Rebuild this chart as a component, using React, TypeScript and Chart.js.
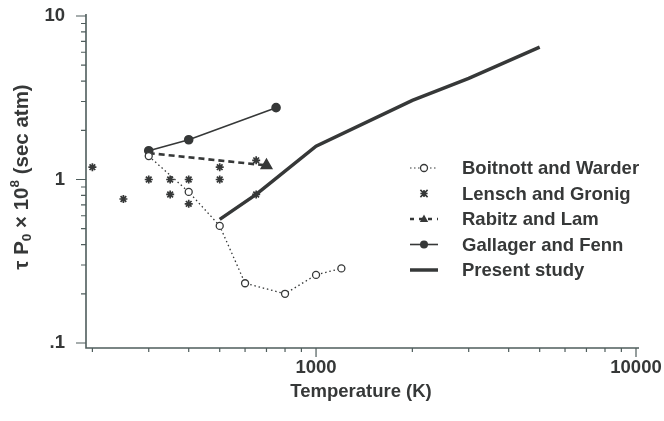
import React, { useEffect, useRef } from 'react';
import { Chart, registerables } from 'chart.js';

Chart.register(...registerables);

// ---- data ----
const boitnottT = [300, 400, 500, 600, 800, 1000, 1200];
const boitnottTau = [1.39, 0.84, 0.52, 0.232, 0.2, 0.261, 0.286];

const lenschT = [200, 250, 300, 350, 350, 400, 400, 500, 500, 650, 650];
const lenschTau = [1.19, 0.76, 1.0, 1.0, 0.81, 1.0, 0.71, 1.19, 1.0, 1.31, 0.81];

const rabitzT = [300, 700];
const rabitzTau = [1.45, 1.22];

const gallagerT = [300, 400, 750];
const gallagerTau = [1.5, 1.75, 2.75];

const presentT = [500, 650, 1000, 2000, 3000, 5000];
const presentTau = [0.57, 0.81, 1.6, 3.05, 4.15, 6.45];

const seriesNames = [
  'Boitnott and Warder',
  'Lensch and Gronig',
  'Rabitz and Lam',
  'Gallager and Fenn',
  'Present study',
];

const xTickValues = [1000, 10000];
const xTickTexts = ['1000', '10000'];
const yTickValues = [0.1, 1, 10];
const yTickTexts = ['.1', '1', '10'];

const xMinorValues = [200, 300, 400, 500, 600, 700, 800, 900, 2000, 3000, 4000, 5000, 6000, 7000, 8000, 9000];
const yMinorValues = [0.2, 0.3, 0.4, 0.5, 0.6, 0.7, 0.8, 0.9, 2, 3, 4, 5, 6, 7, 8, 9];

const INK = '#363838';
const AXIS = '#4f5d5c';
const FONT = '"Liberation Sans", Arial, Helvetica, sans-serif';
const FS = 18.5;

const toPts = (xs: number[], ys: number[]) => xs.map((x, i) => ({ x, y: ys[i] }));

const near = (a: number, b: number) => Math.abs(a - b) <= Math.abs(b) * 1e-6;

function labelFor(values: number[], texts: string[]) {
  return (v: any) => {
    const n = Number(v);
    for (let i = 0; i < values.length; i++) if (near(n, values[i])) return texts[i];
    return '';
  };
}

function drawPoint(ctx: CanvasRenderingContext2D, kind: string, x: number, y: number) {
  ctx.save();
  ctx.strokeStyle = INK;
  ctx.fillStyle = INK;
  ctx.setLineDash([]);
  if (kind === 'openCircle') {
    ctx.lineWidth = 1.3;
    ctx.fillStyle = '#fff';
    ctx.beginPath();
    ctx.arc(x, y, 3.5, 0, Math.PI * 2);
    ctx.fill();
    ctx.stroke();
  } else if (kind === 'circle') {
    ctx.beginPath();
    ctx.arc(x, y, 4, 0, Math.PI * 2);
    ctx.fill();
  } else if (kind === 'triangle') {
    ctx.beginPath();
    ctx.moveTo(x, y - 4.5);
    ctx.lineTo(x + 4.2, y + 3);
    ctx.lineTo(x - 4.2, y + 3);
    ctx.closePath();
    ctx.fill();
  } else if (kind === 'star') {
    ctx.lineWidth = 1.6;
    const r = 3.6;
    ctx.beginPath();
    ctx.moveTo(x - r, y - r); ctx.lineTo(x + r, y + r);
    ctx.moveTo(x + r, y - r); ctx.lineTo(x - r, y + r);
    ctx.moveTo(x - r, y); ctx.lineTo(x + r, y);
    ctx.moveTo(x, y - r); ctx.lineTo(x, y + r);
    ctx.stroke();
  }
  ctx.restore();
}

const decorPlugin = {
  id: 'decor',
  afterDraw(chart: any) {
    const ctx: CanvasRenderingContext2D = chart.ctx;
    const xs = chart.scales.x;
    const ys = chart.scales.y;
    const area = chart.chartArea;

    // axes lines
    ctx.save();
    ctx.strokeStyle = AXIS;
    ctx.lineWidth = 1.6;
    ctx.beginPath();
    ctx.moveTo(area.left, area.top - 2);
    ctx.lineTo(area.left, area.bottom);
    ctx.lineTo(area.right + 3, area.bottom);
    ctx.stroke();

    // y ticks (outward, to the left)
    ctx.lineWidth = 1.2;
    ctx.beginPath();
    yTickValues.forEach((v) => {
      const p = ys.getPixelForValue(v);
      ctx.moveTo(area.left - 10, p);
      ctx.lineTo(area.left, p);
    });
    yMinorValues.forEach((v) => {
      const p = ys.getPixelForValue(v);
      ctx.moveTo(area.left - 5, p);
      ctx.lineTo(area.left, p);
    });
    // x ticks (outward, downward)
    xTickValues.forEach((v) => {
      const p = xs.getPixelForValue(v);
      ctx.moveTo(p, area.bottom);
      ctx.lineTo(p, area.bottom + 9);
    });
    xMinorValues.forEach((v) => {
      const p = xs.getPixelForValue(v);
      ctx.moveTo(p, area.bottom);
      ctx.lineTo(p, area.bottom + 4);
    });
    ctx.stroke();
    ctx.restore();

    // y axis title with subscript / superscript
    ctx.save();
    ctx.translate(22, 177);
    ctx.rotate(-Math.PI / 2);
    ctx.fillStyle = INK;
    ctx.textBaseline = 'middle';
    const big = `bold 20.5px ${FONT}`;
    const small = `bold 13.5px ${FONT}`;
    const parts: [string, string, number][] = [
      ['\u03C4 P', big, 0],
      ['0', small, 5],
      [' \u00D7 10', big, 0],
      ['8', small, -7],
      [' (sec atm)', big, 0],
    ];
    let total = 0;
    parts.forEach(([t, f]) => { ctx.font = f; total += ctx.measureText(t).width; });
    let cx = -total / 2;
    parts.forEach(([t, f, dy]) => {
      ctx.font = f;
      ctx.fillText(t, cx, dy);
      cx += ctx.measureText(t).width;
    });
    ctx.restore();

    // legend
    const symX = 424;
    const textX = 462;
    const rowY = [168, 193.5, 219, 244.5, 270];
    ctx.save();
    ctx.fillStyle = INK;
    ctx.font = `bold ${FS}px ${FONT}`;
    ctx.textBaseline = 'middle';
    seriesNames.forEach((name, i) => {
      ctx.fillText(name, textX, rowY[i] + 1);
    });
    ctx.strokeStyle = INK;
    // Boitnott: dotted line + open circle
    ctx.lineWidth = 1.2;
    ctx.setLineDash([1.5, 2.5]);
    ctx.beginPath();
    ctx.moveTo(symX - 14, rowY[0]); ctx.lineTo(symX + 14, rowY[0]);
    ctx.stroke();
    drawPoint(ctx, 'openCircle', symX, rowY[0]);
    // Lensch: star only
    drawPoint(ctx, 'star', symX, rowY[1]);
    // Rabitz: dashed + triangle
    ctx.lineWidth = 2.5;
    ctx.setLineDash([4, 5]);
    ctx.beginPath();
    ctx.moveTo(symX - 14, rowY[2]); ctx.lineTo(symX + 14, rowY[2]);
    ctx.stroke();
    drawPoint(ctx, 'triangle', symX, rowY[2]);
    // Gallager: solid + filled circle
    ctx.setLineDash([]);
    ctx.lineWidth = 1.6;
    ctx.beginPath();
    ctx.moveTo(symX - 14, rowY[3]); ctx.lineTo(symX + 14, rowY[3]);
    ctx.stroke();
    drawPoint(ctx, 'circle', symX, rowY[3]);
    // Present study: thick solid
    ctx.lineWidth = 3.5;
    ctx.beginPath();
    ctx.moveTo(symX - 14, rowY[4]); ctx.lineTo(symX + 14, rowY[4]);
    ctx.stroke();
    ctx.restore();
  },
};

const noOverflow = (s: any) => {
  s.paddingLeft = 0;
  s.paddingRight = 0;
  s.paddingTop = 0;
  s.paddingBottom = 0;
};

export default function App() {
  const ref = useRef<HTMLCanvasElement | null>(null);

  useEffect(() => {
    document.body.style.margin = '0';
    const canvas = ref.current;
    if (!canvas) return;

    const chart = new Chart(canvas, {
      type: 'scatter',
      data: {
        datasets: [
          {
            label: seriesNames[4],
            data: toPts(presentT, presentTau),
            showLine: true,
            borderColor: INK,
            borderWidth: 3.5,
            pointRadius: 0,
            tension: 0,
          },
          {
            label: seriesNames[0],
            data: toPts(boitnottT, boitnottTau),
            showLine: true,
            borderColor: INK,
            borderWidth: 1.3,
            borderDash: [1.5, 2.8],
            pointStyle: 'circle',
            pointRadius: 3.5,
            pointBorderWidth: 1.3,
            pointBackgroundColor: '#ffffff',
            pointBorderColor: INK,
          },
          {
            label: seriesNames[2],
            data: toPts(rabitzT, rabitzTau),
            showLine: true,
            borderColor: INK,
            borderWidth: 2.6,
            borderDash: [6, 4],
            pointStyle: 'triangle',
            pointRadius: [0, 5],
            pointBackgroundColor: INK,
            pointBorderColor: INK,
          },
          {
            label: seriesNames[1],
            data: toPts(lenschT, lenschTau),
            showLine: false,
            pointStyle: 'star',
            pointRadius: 4,
            pointBorderWidth: 1.7,
            pointBorderColor: INK,
            pointBackgroundColor: INK,
          },
          {
            label: seriesNames[3],
            data: toPts(gallagerT, gallagerTau),
            showLine: true,
            borderColor: INK,
            borderWidth: 1.6,
            pointStyle: 'circle',
            pointRadius: 4,
            pointBackgroundColor: INK,
            pointBorderColor: INK,
          },
        ],
      },
      options: {
        animation: false,
        responsive: false,
        devicePixelRatio: 1,
        layout: { padding: { top: 16, right: 28, left: 0, bottom: 0 } },
        plugins: {
          legend: { display: false },
          tooltip: { enabled: false },
        },
        scales: {
          x: {
            type: 'logarithmic',
            min: 191,
            max: 10000,
            border: { display: false },
            grid: { display: false, drawTicks: false },
            ticks: {
              autoSkip: false,
              maxRotation: 0,
              padding: 9,
              color: INK,
              font: { family: FONT, size: FS, weight: 'bold' },
              callback: labelFor(xTickValues, xTickTexts),
            },
            title: {
              display: true,
              text: 'Temperature (K)',
              color: INK,
              font: { family: FONT, size: FS, weight: 'bold' },
              padding: { top: 0, bottom: 18 },
            },
            afterFit: (s: any) => { s.height = 73; noOverflow(s); },
          },
          y: {
            type: 'logarithmic',
            min: 0.0932,
            max: 10,
            border: { display: false },
            grid: { display: false, drawTicks: false },
            ticks: {
              autoSkip: false,
              padding: 21,
              color: INK,
              font: { family: FONT, size: FS, weight: 'bold' },
              callback: labelFor(yTickValues, yTickTexts),
            },
            afterFit: (s: any) => { s.width = 86; noOverflow(s); },
          },
        },
      },
      plugins: [decorPlugin],
    } as any);

    return () => chart.destroy();
  }, []);

  return (
    <div style={{ width: 664, height: 421, background: '#fff' }}>
      <canvas ref={ref} width={664} height={421} />
    </div>
  );
}
